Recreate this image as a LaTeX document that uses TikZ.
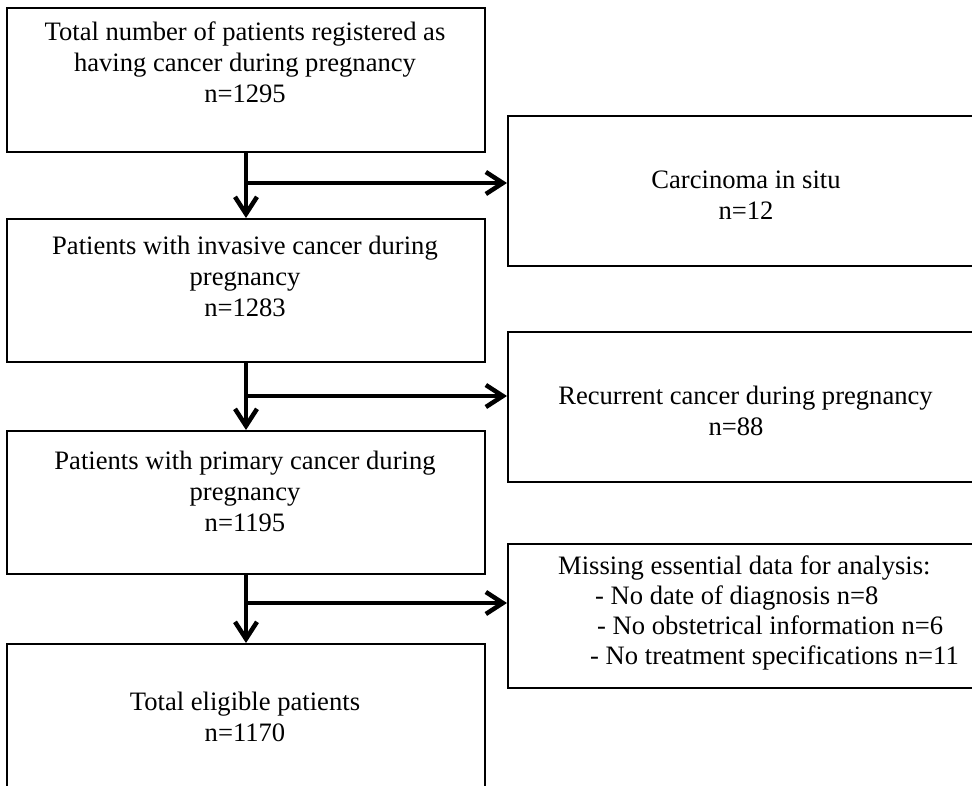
\documentclass[tikz,border=0pt]{standalone}
\usepackage{fontspec}
\setmainfont{Liberation Serif}
\usetikzlibrary{arrows.meta}
\begin{document}
\begin{tikzpicture}[x=1pt,y=-1pt,
  box/.style={draw, line width=2pt, inner sep=0pt, anchor=north west},
  txt/.style={anchor=base, inner sep=0pt, font=\fontsize{26.6}{30.6}\selectfont},
  txtw/.style={txt, anchor=base west},
  arr/.style={line width=4.5pt, -{Straight Barb[length=17pt,width=22pt]}}]
\useasboundingbox (0,0) rectangle (972,785);
\clip (0,0) rectangle (972,785);
% main column boxes
\node[box, minimum width=478pt, minimum height=144pt] (b1) at (6,7) {};
\node[box, minimum width=478pt, minimum height=143pt] (b2) at (6,218) {};
\node[box, minimum width=478pt, minimum height=143pt] (b3) at (6,430) {};
\node[box, minimum width=478pt, minimum height=200pt] (b4) at (6,643) {};
% exclusion boxes
\node[box, minimum width=480pt, minimum height=150pt] (r1) at (507,115) {};
\node[box, minimum width=480pt, minimum height=150pt] (r2) at (507,331) {};
\node[box, minimum width=480pt, minimum height=144pt] (r3) at (507,543) {};
% texts
\node[txt] (t1a) at (245,40) {Total number of patients registered as};
\node[txt] (t1b) at (245,71) {having cancer during pregnancy};
\node[txt] (t1c) at (245,102) {n=1295};
\node[txt] (t2a) at (245,254) {Patients with invasive cancer during};
\node[txt] (t2b) at (245,285) {pregnancy};
\node[txt] (t2c) at (245,316) {n=1283};
\node[txt] (t3a) at (245,469) {Patients with primary cancer during};
\node[txt] (t3b) at (245,500) {pregnancy};
\node[txt] (t3c) at (245,531) {n=1195};
\node[txt] (t4a) at (245,710) {Total eligible patients};
\node[txt] (t4b) at (245,741) {n=1170};
\node[txt] (s1a) at (746,188) {Carcinoma in situ};
\node[txt] (s1b) at (746,219) {n=12};
\node[txt] (s2a) at (745.5,404) {Recurrent cancer during pregnancy};
\node[txt] (s2b) at (736,435) {n=88};
\node[txtw] (s3a) at (558,574) {Missing essential data for analysis:};
\node[txtw] (s3b) at (595,604) {- No date of diagnosis n=8};
\node[txtw] (s3c) at (597,634) {- No obstetrical information n=6};
\node[txtw] (s3d) at (590,664) {- No treatment specifications n=11};
% connectors
\draw[arr] (b1.south) -- (b2.north);
\draw[arr] (b2.south) -- (b3.north);
\draw[arr] (b3.south) -- (b4.north);
\coordinate (j1) at (245,183);
\coordinate (j2) at (245,396);
\coordinate (j3) at (245,603);
\draw[arr] (j1) -- (j1 -| r1.west);
\draw[arr] (j2) -- (j2 -| r2.west);
\draw[arr] (j3) -- (j3 -| r3.west);
\end{tikzpicture}
\end{document}
